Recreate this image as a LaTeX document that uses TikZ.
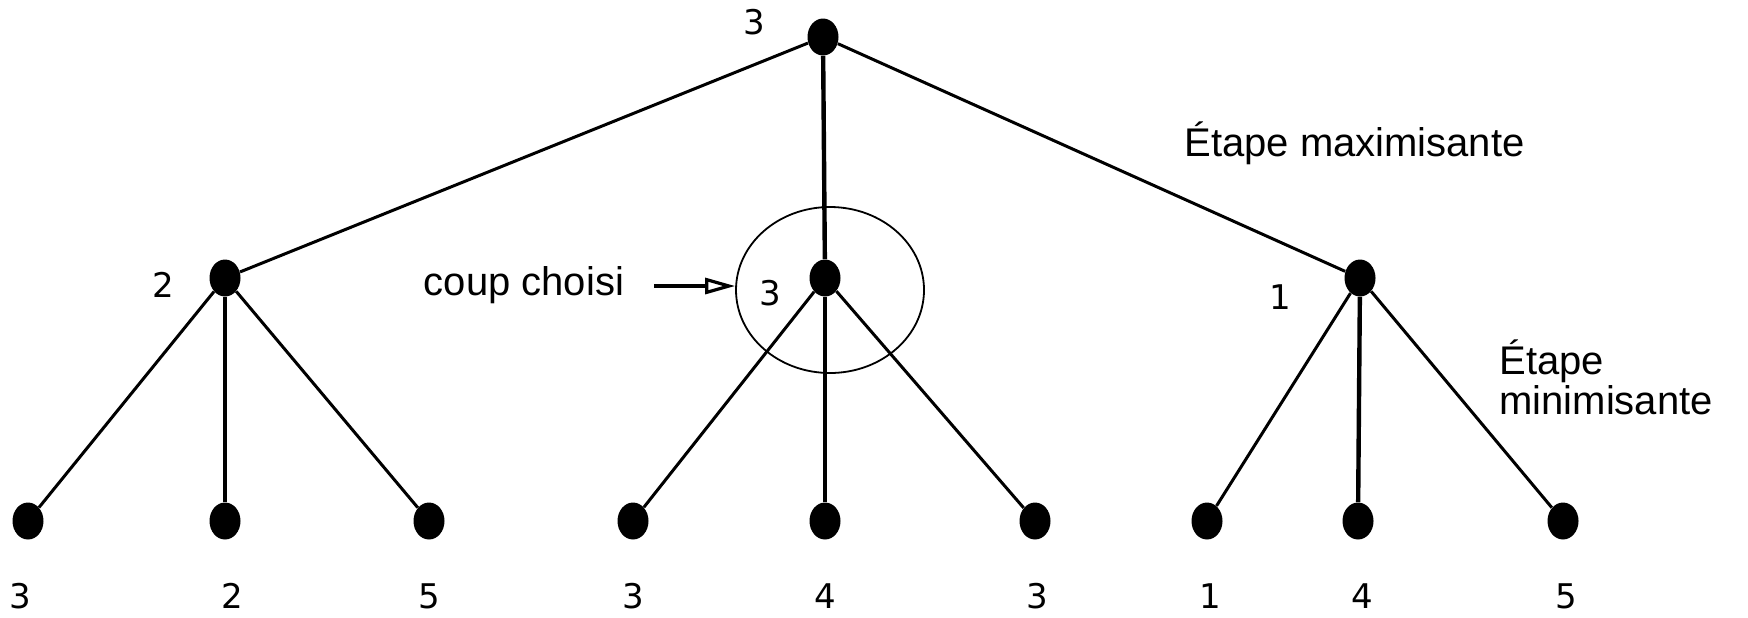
\documentclass[tikz,border=0pt]{standalone}
\usepackage{fontspec}
\setmainfont{Liberation Sans}
\newfontfamily\chiffres{DejaVu Sans}
\usetikzlibrary{shapes.geometric,arrows.meta}
\newcommand{\textefont}{\fontsize{20}{20}\selectfont}
\newcommand{\valfont}{\chiffres\fontsize{17}{20}\selectfont}
\tikzset{
  pion/.style={ellipse,fill=black,minimum width=15.5pt,minimum height=18.5pt,inner sep=0pt},
  branche/.style={line width=1.5pt},
  tige/.style={line width=2.2pt},
  valeur/.style={inner sep=0pt,font=\valfont},
  etiquette/.style={inner sep=0pt,font=\textefont},
}

\begin{document}
\begin{tikzpicture}[x=0.5pt,y=-0.5pt]
  \useasboundingbox (0,0) rectangle (1748,617);

  % noeud max et noeuds min
  \node[pion] (racine) at (823,37) {};
  \node[pion] (g) at (225,278) {};
  \node[pion] (m) at (825,278) {};
  \node[pion] (d) at (1360,278) {};
  \draw[branche] (racine) -- (g);
  \draw[tige] (racine) -- (m);
  \draw[branche] (racine) -- (d);

  % feuilles et leurs valeurs
  \foreach \x/\lx/\v/\p/\s [count=\i] in {28/20/3/g/branche, 225/232/2/g/tige, 429/429/5/g/branche,
      633/633/3/m/branche, 825/825/4/m/tige, 1035/1037/3/m/branche,
      1207/1210/1/d/branche, 1358/1362/4/d/tige, 1563/1566/5/d/branche}{%
    \node[pion] (f\i) at (\x,521) {};
    \draw[\s] (\p) -- (f\i);
    \node[valeur] (v\i) at (\lx,596) {\v};
  }

  \node[valeur] (vr) at (754,22) {3};
  \node[valeur] (vg) at (163,285) {2};
  \node[valeur] (vm) at (770,293) {3};
  \node[valeur] (vd) at (1280,297) {1};

  \node[ellipse,draw,line width=0.9pt,minimum width=94pt,minimum height=83pt] (choix) at (830,290) {};
  \node[etiquette] (coup) at (524,285) {coup choisi};
  \coordinate (depart) at (654,286);
  \draw[line width=1.6pt,-{Triangle[open,length=15pt,width=8pt]}] (depart) -- (depart -| choix.west);

  \node[etiquette,anchor=west] (max) at (1184,143) {Étape maximisante};
  \node[etiquette,anchor=west,align=left] (min) at (1499,377) {Étape\\minimisante};
\end{tikzpicture}
\end{document}
